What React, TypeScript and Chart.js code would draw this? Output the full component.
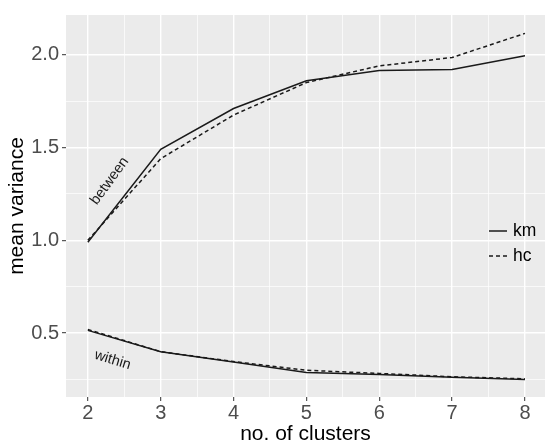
import React, { useEffect, useRef } from "react";
import { Chart, registerables } from "chart.js";

Chart.register(...registerables);

const clusters = [2, 3, 4, 5, 6, 7, 8];
const kmBetween = [0.99, 1.49, 1.71, 1.86, 1.915, 1.92, 1.995];
const hcBetween = [1.0, 1.44, 1.675, 1.85, 1.94, 1.985, 2.115];
const kmWithin = [0.515, 0.4, 0.345, 0.288, 0.277, 0.262, 0.25];
const hcWithin = [0.52, 0.4, 0.347, 0.3, 0.283, 0.265, 0.254];

const xTicks = [2, 2.5, 3, 3.5, 4, 4.5, 5, 5.5, 6, 6.5, 7, 7.5, 8];
const yTicks = [0.25, 0.5, 0.75, 1.0, 1.25, 1.5, 1.75, 2.0];

const annotations = [
  { text: "between", x: 2.3, y: 1.32, angle: -54 },
  { text: "within", x: 2.34, y: 0.355, angle: 17 },
];

const legendItems = [
  { label: "km", dash: [] as number[] },
  { label: "hc", dash: [4, 3] },
];

const FONT = "'Liberation Sans', Arial, Helvetica, sans-serif";
const LINE = "#1a1a1a";
const LW = 1.5;

const isMajorX = (v: number) => Math.abs(v - Math.round(v)) < 1e-9;
const isMajorY = (v: number) => Math.abs(v * 2 - Math.round(v * 2)) < 1e-9;

export default function App() {
  const ref = useRef<HTMLCanvasElement | null>(null);

  useEffect(() => {
    const canvas = ref.current;
    if (!canvas) return;

    const panelBg = {
      id: "panelBg",
      beforeDraw(chart: any) {
        const { ctx, chartArea } = chart;
        ctx.save();
        ctx.fillStyle = "#EBEBEB";
        ctx.fillRect(chartArea.left, chartArea.top, chartArea.right - chartArea.left, chartArea.bottom - chartArea.top);
        ctx.restore();
      },
    };

    const labelsPlugin = {
      id: "labelsPlugin",
      afterDatasetsDraw(chart: any) {
        const { ctx, scales, chartArea } = chart;
        ctx.save();
        ctx.fillStyle = "#1a1a1a";
        ctx.font = `14.5px ${FONT}`;
        ctx.textAlign = "center";
        ctx.textBaseline = "middle";
        for (const a of annotations) {
          const px = scales.x.getPixelForValue(a.x);
          const py = scales.y.getPixelForValue(a.y);
          ctx.save();
          ctx.translate(px, py);
          ctx.rotate((a.angle * Math.PI) / 180);
          ctx.fillText(a.text, 0, 0);
          ctx.restore();
        }
        const lx0 = chartArea.right - 56;
        const lx1 = chartArea.right - 38;
        const ly0 = chartArea.top + 216;
        legendItems.forEach((it, i) => {
          const y = ly0 + i * 25;
          ctx.beginPath();
          ctx.strokeStyle = LINE;
          ctx.lineWidth = LW;
          ctx.setLineDash(it.dash);
          ctx.moveTo(lx0, y);
          ctx.lineTo(lx1, y);
          ctx.stroke();
          ctx.setLineDash([]);
          ctx.fillStyle = "#000";
          ctx.font = `17.5px ${FONT}`;
          ctx.textAlign = "left";
          ctx.textBaseline = "middle";
          ctx.fillText(it.label, lx1 + 6, y);
        });
        ctx.restore();
      },
    };

    const mk = (vals: number[]) => clusters.map((c, i) => ({ x: c, y: vals[i] }));

    const chart = new Chart(canvas, {
      type: "line",
      data: {
        datasets: [
          { label: "km between", data: mk(kmBetween), borderColor: LINE, borderWidth: LW, pointRadius: 0, tension: 0, fill: false },
          { label: "hc between", data: mk(hcBetween), borderColor: LINE, borderWidth: LW, borderDash: [4, 3], pointRadius: 0, tension: 0, fill: false },
          { label: "km within", data: mk(kmWithin), borderColor: LINE, borderWidth: LW, pointRadius: 0, tension: 0, fill: false },
          { label: "hc within", data: mk(hcWithin), borderColor: LINE, borderWidth: LW, borderDash: [4, 3], pointRadius: 0, tension: 0, fill: false },
        ],
      },
      options: {
        responsive: false,
        animation: false,
        devicePixelRatio: 1,
        layout: { padding: { top: 12, right: 0, left: 0, bottom: 0 } },
        plugins: { legend: { display: false }, tooltip: { enabled: false } },
        scales: {
          x: {
            type: "linear",
            min: 1.7,
            max: 8.275,
            afterBuildTicks: (s: any) => {
              s.ticks = xTicks.map((v) => ({ value: v }));
            },
            afterFit: (s: any) => {
              s.height = 47;
            },
            border: { display: false },
            grid: {
              color: "#FFFFFF",
              lineWidth: (c: any) => (c.tick && isMajorX(c.tick.value) ? 1.4 : 0.7),
              tickColor: (c: any) => (c.tick && isMajorX(c.tick.value) ? "#333333" : "rgba(0,0,0,0)"),
              tickLength: 4,
              tickWidth: 1,
            },
            ticks: {
              color: "#4D4D4D",
              font: { family: FONT, size: 20 },
              padding: 0,
              maxRotation: 0,
              autoSkip: false,
              callback: (v: any) => (isMajorX(Number(v)) ? String(v) : ""),
            },
            title: {
              display: true,
              text: "no. of clusters",
              color: "#000",
              font: { family: FONT, size: 21, lineHeight: 0.9 },
              padding: { top: 0, bottom: 0 },
            },
          },
          y: {
            type: "linear",
            min: 0.156,
            max: 2.214,
            afterBuildTicks: (s: any) => {
              s.ticks = yTicks.map((v) => ({ value: v }));
            },
            afterFit: (s: any) => {
              s.width = 66;
            },
            border: { display: false },
            grid: {
              color: "#FFFFFF",
              lineWidth: (c: any) => (c.tick && isMajorY(c.tick.value) ? 1.4 : 0.7),
              tickColor: (c: any) => (c.tick && isMajorY(c.tick.value) ? "#333333" : "rgba(0,0,0,0)"),
              tickLength: 4,
              tickWidth: 1,
            },
            ticks: {
              color: "#4D4D4D",
              font: { family: FONT, size: 20 },
              padding: 3,
              autoSkip: false,
              callback: (v: any) => (isMajorY(Number(v)) ? Number(v).toFixed(1) : ""),
            },
            title: {
              display: true,
              text: "mean variance",
              color: "#000",
              font: { family: FONT, size: 21, lineHeight: 1 },
              padding: { top: 7, bottom: 0 },
            },
          },
        },
      },
      plugins: [panelBg, labelsPlugin],
    } as any);

    return () => chart.destroy();
  }, []);

  return (
    <div style={{ position: "absolute", left: 0, top: 0, width: 545, height: 444 }}>
      <canvas ref={ref} width={545} height={444} style={{ display: "block" }} />
    </div>
  );
}
